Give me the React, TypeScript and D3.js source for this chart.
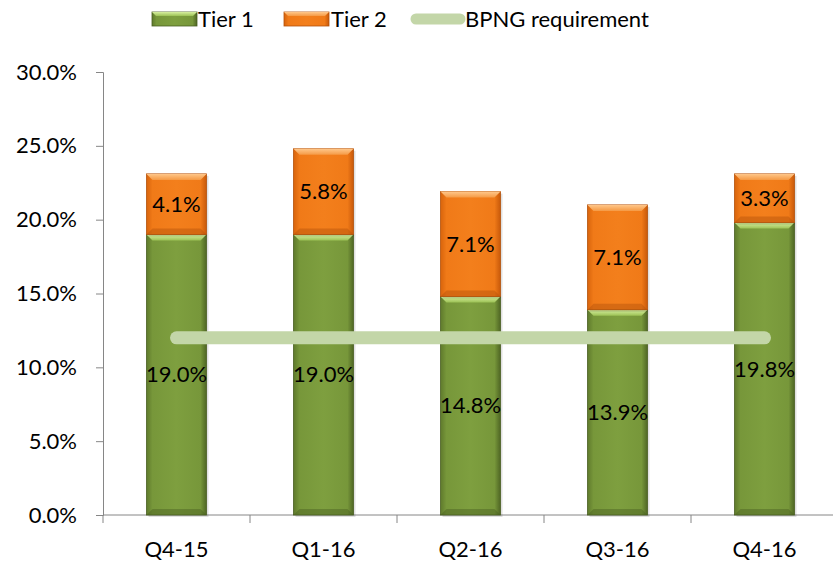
import React, { useEffect, useRef } from 'react';
import * as d3 from 'd3';

const quarters = ['Q4-15', 'Q1-16', 'Q2-16', 'Q3-16', 'Q4-16'];
const tier1 = [19.0, 19.0, 14.8, 13.9, 19.8];
const tier2 = [4.1, 5.8, 7.1, 7.1, 3.3];
const bpngRequirement = 12;
const yTicks = [0, 5, 10, 15, 20, 25, 30];

const FONT = 'Lato, "Open Sans", sans-serif';
const FS = 22;

const App: React.FC = () => {
  const svgRef = useRef<SVGSVGElement>(null);

  useEffect(() => {
    if (!svgRef.current) return;
    const svg = d3.select(svgRef.current);
    svg.selectAll('*').remove();

    const width = 833;
    const height = 561;
    const margin = { top: 72, right: -5, bottom: 46, left: 103 };
    const innerW = width - margin.left - margin.right;
    const innerH = height - margin.top - margin.bottom;

    const defs = svg.append('defs');
    const mkGrad = (id: string, stops: [number, string][], vertical = false) => {
      const g = defs.append('linearGradient').attr('id', id)
        .attr('x1', 0).attr('y1', 0)
        .attr('x2', vertical ? 0 : 1).attr('y2', vertical ? 1 : 0);
      stops.forEach(([o, c]) => g.append('stop').attr('offset', o).attr('stop-color', c));
    };
    mkGrad('greenBody', [[0, '#5f7a2c'], [0.1, '#77973a'], [0.5, '#7e9f3f'], [0.9, '#77973a'], [1, '#4f6624']]);
    mkGrad('orangeBody', [[0, '#d8640c'], [0.1, '#f07a18'], [0.5, '#f37f1c'], [0.9, '#f07a18'], [1, '#c8590a']]);
    mkGrad('greenTop', [[0, '#d7efa0'], [1, '#9cc255']], true);
    mkGrad('orangeTop', [[0, '#ffc78a'], [1, '#f59a45']], true);

    const g = svg.append('g').attr('transform', `translate(${margin.left},${margin.top})`);

    const x = d3.scaleBand().domain(quarters).range([0, innerW]).paddingInner(0).paddingOuter(0);
    const y = d3.scaleLinear().domain([0, 30]).range([innerH, 0]);
    const barW = 60;

    // Axes
    const yAxis = g.append('g').call(
      d3.axisLeft(y).tickValues(yTicks).tickSize(7).tickPadding(19).tickFormat(d => `${(+d).toFixed(1)}%`)
    );
    yAxis.select('.domain').attr('stroke', '#868686');
    yAxis.selectAll('line').attr('stroke', '#868686');
    yAxis.selectAll('text').attr('font-family', FONT).attr('font-size', FS).attr('fill', '#000');

    const xAxis = g.append('g').attr('transform', `translate(0,${innerH})`);
    xAxis.append('line').attr('x1', 0).attr('x2', innerW).attr('stroke', '#868686');
    const bounds = quarters.map(q => x(q)!).concat([innerW]);
    xAxis.selectAll('.tk').data(bounds).enter().append('line')
      .attr('x1', d => d).attr('x2', d => d).attr('y1', 0).attr('y2', 8).attr('stroke', '#868686');
    xAxis.selectAll('.lbl').data(quarters).enter().append('text')
      .attr('x', d => x(d)! + x.bandwidth() / 2).attr('y', 42)
      .attr('text-anchor', 'middle').attr('font-family', FONT).attr('font-size', FS).text(d => d);

    const drawSeg = (cx: number, v0: number, v1: number, body: string, top: string, edge: string) => {
      const x0 = cx - barW / 2;
      const yt = y(v1);
      const yb = y(v0);
      const h = yb - yt;
      const bev = 6;
      g.append('rect').attr('x', x0 + 2).attr('y', yt + 2).attr('width', barW).attr('height', h)
        .attr('fill', 'rgba(0,0,0,0.12)');
      g.append('rect').attr('x', x0).attr('y', yt).attr('width', barW).attr('height', h)
        .attr('fill', `url(#${body})`).attr('stroke', edge).attr('stroke-width', 0.8);
      g.append('path')
        .attr('d', `M${x0},${yt}L${x0 + barW},${yt}L${x0 + barW - bev},${yt + bev}L${x0 + bev},${yt + bev}Z`)
        .attr('fill', `url(#${top})`);
      g.append('path')
        .attr('d', `M${x0},${yb}L${x0 + barW},${yb}L${x0 + barW - bev},${yb - bev}L${x0 + bev},${yb - bev}Z`)
        .attr('fill', edge).attr('opacity', 0.45);
    };

    quarters.forEach((q, i) => {
      const cx = x(q)! + x.bandwidth() / 2;
      drawSeg(cx, 0, tier1[i], 'greenBody', 'greenTop', '#4a5f22');
      drawSeg(cx, tier1[i], tier1[i] + tier2[i], 'orangeBody', 'orangeTop', '#b4520a');
    });

    // BPNG requirement line
    const line = d3.line<string>().x(d => x(d)! + x.bandwidth() / 2).y(() => y(bpngRequirement));
    g.append('path').datum(quarters).attr('d', line)
      .attr('fill', 'none').attr('stroke', '#c3d6a8').attr('stroke-width', 13).attr('stroke-linecap', 'round');

    // Labels
    quarters.forEach((q, i) => {
      const cx = x(q)! + x.bandwidth() / 2;
      g.append('text').attr('x', cx).attr('y', y(tier1[i] / 2)).attr('dy', '0.35em')
        .attr('text-anchor', 'middle').attr('font-family', FONT).attr('font-size', FS)
        .text(`${tier1[i].toFixed(1)}%`);
      g.append('text').attr('x', cx).attr('y', y(tier1[i] + tier2[i] / 2)).attr('dy', '0.35em')
        .attr('text-anchor', 'middle').attr('font-family', FONT).attr('font-size', FS)
        .text(`${tier2[i].toFixed(1)}%`);
    });

    // Legend
    const leg = svg.append('g').attr('transform', 'translate(0,19)');
    const swatch = (x0: number, body: string, top: string, edge: string) => {
      leg.append('rect').attr('x', x0).attr('y', -7).attr('width', 45).attr('height', 14)
        .attr('fill', `url(#${body})`).attr('stroke', edge).attr('stroke-width', 0.8);
      leg.append('path').attr('d', `M${x0},-7L${x0 + 45},-7L${x0 + 41},-3L${x0 + 4},-3Z`).attr('fill', `url(#${top})`);
    };
    swatch(152, 'greenBody', 'greenTop', '#4a5f22');
    swatch(284, 'orangeBody', 'orangeTop', '#b4520a');
    leg.append('line').attr('x1', 416).attr('x2', 460).attr('y1', 0).attr('y2', 0)
      .attr('stroke', '#c3d6a8').attr('stroke-width', 11).attr('stroke-linecap', 'round');
    const legTexts: [number, string][] = [[198, 'Tier 1'], [331, 'Tier 2'], [465, 'BPNG requirement']];
    legTexts.forEach(([lx, t]) => {
      leg.append('text').attr('x', lx).attr('y', 0).attr('dy', '0.35em')
        .attr('font-family', FONT).attr('font-size', FS).text(t);
    });
  }, []);

  return (
    <svg ref={svgRef} width={833} height={561} style={{ position: 'absolute', left: 0, top: 0, background: '#fff' }} />
  );
};

export default App;
